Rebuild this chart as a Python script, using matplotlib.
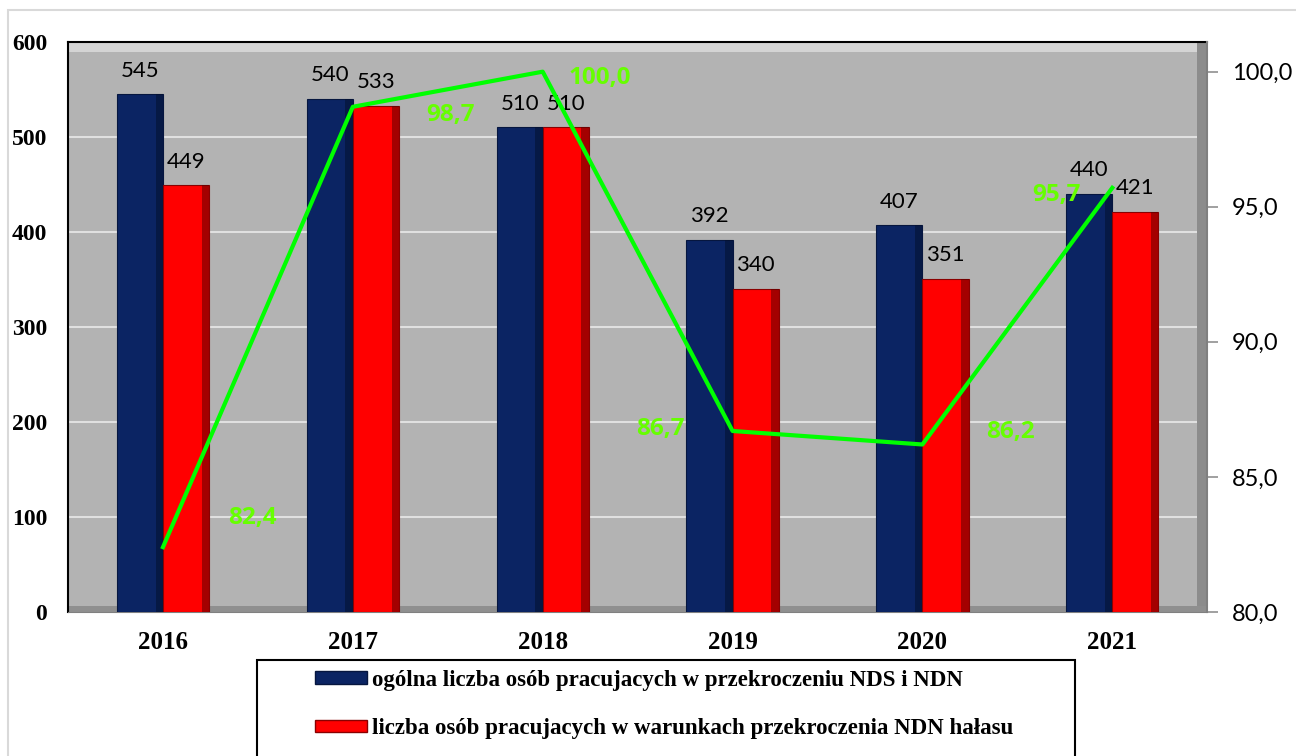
import numpy as np
import matplotlib.pyplot as plt
from matplotlib.patches import Rectangle
from matplotlib.ticker import FuncFormatter

# Data
years = ['2016', '2017', '2018', '2019', '2020', '2021']
total_workers = [545, 540, 510, 392, 407, 440]
noise_workers = [449, 533, 510, 340, 351, 421]
noise_share = [82.4, 98.7, 100.0, 86.7, 86.2, 95.7]
# where each green label sits relative to its point (pixels, right/up positive)
share_offsets = [(89, 29), (98, -8), (57, -6), (-72, 2), (88, 12), (-56, -7)]

legend_labels = ['ogólna liczba osób pracujacych w przekroczeniu NDS i NDN',
                 'liczba osób pracujacych w warunkach przekroczenia NDN hałasu']

navy = '#0b2463'
red = '#ff0000'
serif = 'Liberation Serif'
sans = 'Lato'
sans_bold = 'Open Sans'

fig = plt.figure(figsize=(12.96, 7.56), dpi=100)

# light outer frame of the original chart object
fig.patches.append(Rectangle((8 / 1296, -0.1), 1.2, 1 - 10 / 756 + 0.1,
                             transform=fig.transFigure, fill=False,
                             edgecolor='#d9d9d9', linewidth=1.5))

ax = fig.add_axes([0.0525, 0.1905, 0.879, 0.754])
ax.set_facecolor('#b3b3b3')

x = np.arange(len(years))
w = 0.243

ax.bar(x - w / 2, total_workers, width=w, color=navy, edgecolor='#06163f', linewidth=0.8, zorder=3)
ax.bar(x + w / 2, noise_workers, width=w, color=red, edgecolor='#8a0000', linewidth=0.8, zorder=3)
# dark shading on right side of bars for the bevelled look
ax.bar(x - w * 0.08, total_workers, width=w * 0.16, color='#03102e', alpha=0.55, linewidth=0, zorder=3)
ax.bar(x + w * 0.92, noise_workers, width=w * 0.16, color='#5a0000', alpha=0.55, linewidth=0, zorder=3)

for xi, v in zip(x, total_workers):
    ax.annotate(str(v), (xi - w / 2, v), xytext=(0, 17), textcoords='offset points',
                ha='center', va='center', fontsize=16, family=sans, zorder=5)
for xi, v in zip(x, noise_workers):
    ax.annotate(str(v), (xi + w / 2, v), xytext=(0, 17), textcoords='offset points',
                ha='center', va='center', fontsize=16, family=sans, zorder=5)

ax.set_xlim(-0.5, len(years) - 0.5)
ax.set_ylim(0, 600)
ax.set_yticks(np.arange(0, 601, 100))
ax.yaxis.grid(True, color='#e0e0e0', linewidth=1.5, zorder=1)
ax.set_axisbelow(True)
ax.set_xticks(x)
ax.set_xticklabels(years, fontsize=18, fontweight='bold', family=serif)
ax.tick_params(axis='x', length=0, pad=14)
ax.tick_params(axis='y', length=0, pad=15)
for lab in ax.get_yticklabels():
    lab.set_fontsize(17)
    lab.set_fontweight('bold')
    lab.set_family(serif)

for side in ['top', 'left']:
    ax.spines[side].set_color('black')
    ax.spines[side].set_linewidth(1.5)
ax.spines['bottom'].set_color('#808080')
ax.spines['right'].set_visible(False)

# bevel bands of the plot area
ax.add_patch(Rectangle((0, 0.982), 1, 0.018, transform=ax.transAxes, color='#d4d4d4', zorder=2, linewidth=0))
ax.add_patch(Rectangle((0.991, 0), 0.009, 1, transform=ax.transAxes, color='#8c8c8c', zorder=2, linewidth=0))
ax.add_patch(Rectangle((0, 0), 1, 0.01, transform=ax.transAxes, color='#8f8f8f', zorder=2, linewidth=0))

# secondary axis with the percentage line
ax2 = ax.twinx()
ax2.set_ylim(80, 101.1)
ax2.set_yticks(np.arange(80, 101, 5))
ax2.yaxis.set_major_formatter(FuncFormatter(lambda v, p: f'{v:.1f}'.replace('.', ',')))
ax2.tick_params(axis='y', length=8, width=1.2, color='#909090', pad=10, labelsize=17)
for lab in ax2.get_yticklabels():
    lab.set_family(sans)
for side in ['top', 'left', 'bottom']:
    ax2.spines[side].set_visible(False)
ax2.spines['right'].set_color('#808080')
ax2.spines['right'].set_linewidth(1.5)

ax2.plot(x, noise_share, color='#00ff00', linewidth=3, zorder=6)
for xi, v, (dx, dy) in zip(x, noise_share, share_offsets):
    ax2.annotate(f'{v:.1f}'.replace('.', ','), (xi, v), xytext=(dx * 0.72, dy * 0.72),
                 textcoords='offset points', ha='center', va='center',
                 fontsize=17.5, fontweight='bold', family=sans_bold, color='#66ff00', zorder=7)

# legend box below the plot
fig.patches.append(Rectangle((257 / 1296, -0.05), (1075 - 257) / 1296, 1 - 660 / 756 + 0.05,
                             transform=fig.transFigure, fill=False, edgecolor='black', linewidth=1.5))
handles = [Rectangle((0, 0), 1, 1, facecolor=navy, edgecolor='#06163f'),
           Rectangle((0, 0), 1, 1, facecolor=red, edgecolor='#8a0000')]
fig.legend(handles, legend_labels, loc='upper left', bbox_to_anchor=(294 / 1296, 1 - 649 / 756),
           frameon=False, handlelength=2.3, handleheight=0.45, handletextpad=0.2,
           labelspacing=1.2, prop={'family': serif, 'weight': 'bold', 'size': 16.5})

fig.savefig('out.png', dpi=100)
